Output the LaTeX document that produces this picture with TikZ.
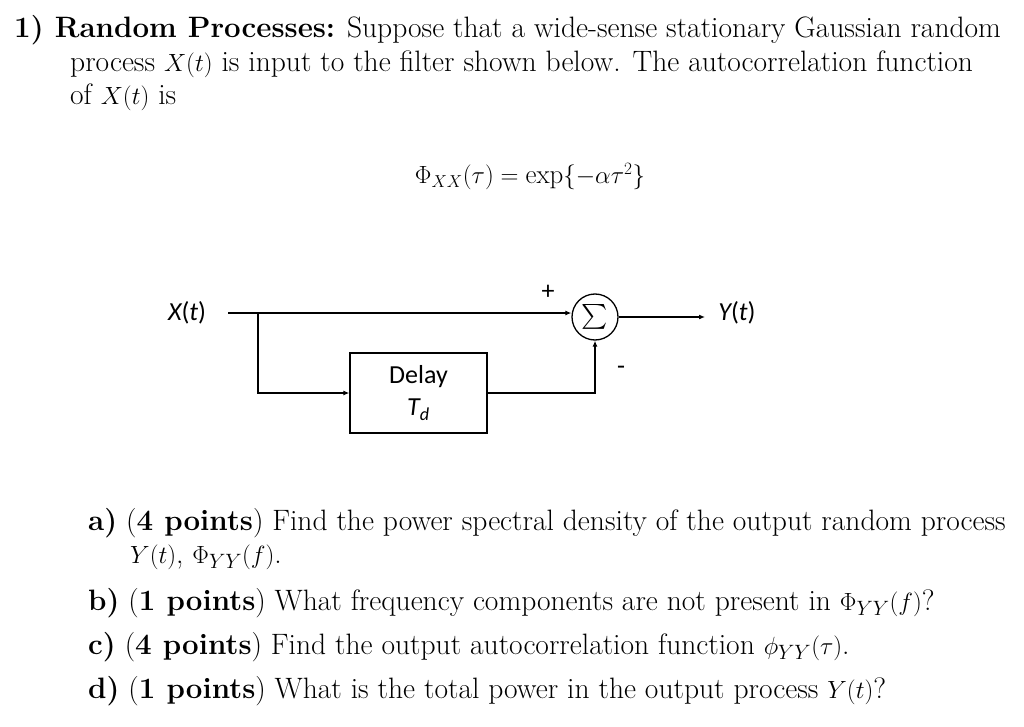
\documentclass[tikz,border=0pt]{standalone}
\usepackage{amsmath}
\usepackage{fontspec}
\newfontfamily\diag{Carlito}
\usetikzlibrary{arrows.meta}
\begin{document}
\begin{tikzpicture}[x=1pt,y=-1pt,
  txt/.style={anchor=base west,inner sep=0pt,font=\fontsize{29.5}{33}\selectfont},
  lbl/.style={inner sep=0pt,font=\diag\fontsize{26}{28}\selectfont},
  wire/.style={line width=1.3pt},
  arr/.style={wire,-{Latex[length=6pt,width=5pt]}}]
\useasboundingbox (0,0) rectangle (1024,727);
\node[txt] (l1) at (14,38) {\textbf{1) Random Processes:} Suppose that a wide-sense stationary Gaussian random};
\node[txt] (l2) at (70,72) {process $X(t)$ is input to the filter shown below. The autocorrelation function};
\node[txt] (l3) at (70,105) {of $X(t)$ is};
\node[txt,anchor=base,font=\fontsize{27}{33}\selectfont] (eq) at (530,184) {$\Phi_{XX}(\tau)=\exp\{-\alpha\tau^2\}$};
% diagram
\node[lbl] (x) at (187,313) {\itshape X\upshape(\itshape t\upshape)};
\node[lbl] (y) at (737,313) {\itshape Y\upshape(\itshape t\upshape)};
\node[wire,draw,circle,minimum size=46pt,inner sep=0pt] (s) at (595,317) {\fontsize{34}{36}\selectfont$\sum$};
\node[wire,draw,minimum width=137pt,minimum height=80pt,align=center,lbl] (d) at (418.5,393) {Delay\\[4pt]\itshape T\textsubscript{d}};
\coordinate (a) at (228,313);
\coordinate (b) at (258,313);
\draw[arr] (a) -- (s.west|-a);
\draw[arr] (b) |- (d.west);
\draw[arr] (d.east) -| (s.south);
\draw[arr] (s.east) -- (705,317);
\node[lbl] (p) at (548,292) {+};
\node[lbl] (m) at (621,370) {-};
% questions
\node[txt] (qa) at (88,530) {\textbf{a)} (\textbf{4 points}) Find the power spectral density of the output random process};
\node[txt] (qa2) at (130,563) {$Y(t)$, $\Phi_{YY}(f)$.};
\node[txt] (qb) at (88,610) {\textbf{b)} (\textbf{1 points}) What frequency components are not present in $\Phi_{YY}(f)$?};
\node[txt] (qc) at (88,654) {\textbf{c)} (\textbf{4 points}) Find the output autocorrelation function $\phi_{YY}(\tau)$.};
\node[txt] (qd) at (88,698) {\textbf{d)} (\textbf{1 points}) What is the total power in the output process $Y(t)$?};
\end{tikzpicture}
\end{document}
